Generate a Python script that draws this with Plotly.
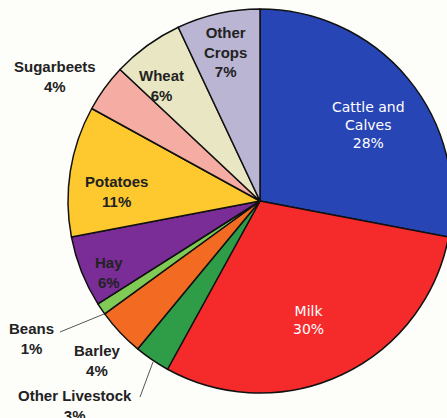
import plotly.graph_objects as go

categories = ["Cattle and Calves", "Milk", "Other Livestock", "Barley", "Beans",
              "Hay", "Potatoes", "Sugarbeets", "Wheat", "Other Crops"]
shares = [28, 30, 3, 4, 1, 6, 11, 4, 6, 7]
colors = ["#2845b5", "#f52b2b", "#2f9d48", "#f36b22", "#7fcb55",
          "#7a2c97", "#fdc92f", "#f5aca2", "#e9e7c3", "#b9b5d2"]

# label display text and approximate pixel centers
label_text = ["Cattle and<br>Calves<br>28%", "Milk<br>30%", "Other Livestock<br>3%",
              "Barley<br>4%", "Beans<br>1%", "Hay<br>6%", "Potatoes<br>11%",
              "Sugarbeets<br>4%", "Wheat<br>6%", "Other<br>Crops<br>7%"]
label_px = [(368, 125), (308, 320), (75, 405), (97, 360), (31, 338),
            (109, 272), (117, 192), (55, 76), (161, 85), (225, 52)]
label_white = [True, True, False, False, False, False, False, False, False, False]

W, H = 460, 418
cx, cy, r = 260, 201, 192


def px(x, y):
    return x / W, 1 - y / H


fig = go.Figure(go.Pie(
    labels=categories,
    values=shares,
    sort=False,
    direction="clockwise",
    rotation=0,
    marker=dict(colors=colors, line=dict(color="#111111", width=1.5)),
    textinfo="none",
    hoverinfo="label+percent",
    domain=dict(x=[(cx - r) / W, (cx + r) / W], y=[(H - cy - r) / H, (H - cy + r) / H]),
    showlegend=False,
))

annotations = []
for txt, (x, y), white in zip(label_text, label_px, label_white):
    ax, ay = px(x, y)
    if white:
        font = dict(family="DejaVu Sans", size=14, color="white")
    else:
        font = dict(family="Liberation Sans", size=15, color="#222222")
        txt = "<b>" + txt + "</b>"
    annotations.append(dict(x=ax, y=ay, xref="paper", yref="paper", text=txt,
                            showarrow=False, font=font, align="center",
                            xanchor="center", yanchor="middle"))
fig.update_layout(annotations=annotations)

# leader lines
leaders = [((60, 332), (104, 314)), ((140, 397), (153, 362))]
for (x0, y0), (x1, y1) in leaders:
    a0 = px(x0, y0)
    a1 = px(x1, y1)
    fig.add_shape(type="line", xref="paper", yref="paper",
                  x0=a0[0], y0=a0[1], x1=a1[0], y1=a1[1],
                  line=dict(color="#555555", width=1))

fig.update_layout(
    width=W, height=H,
    margin=dict(l=0, r=0, t=0, b=0),
    paper_bgcolor="#fdfdfa",
    plot_bgcolor="#fdfdfa",
)

fig.write_html("out.html", config={"displayModeBar": False},
               post_script="document.body.style.margin='0';document.body.style.overflow='hidden';document.documentElement.style.overflow='hidden';")
